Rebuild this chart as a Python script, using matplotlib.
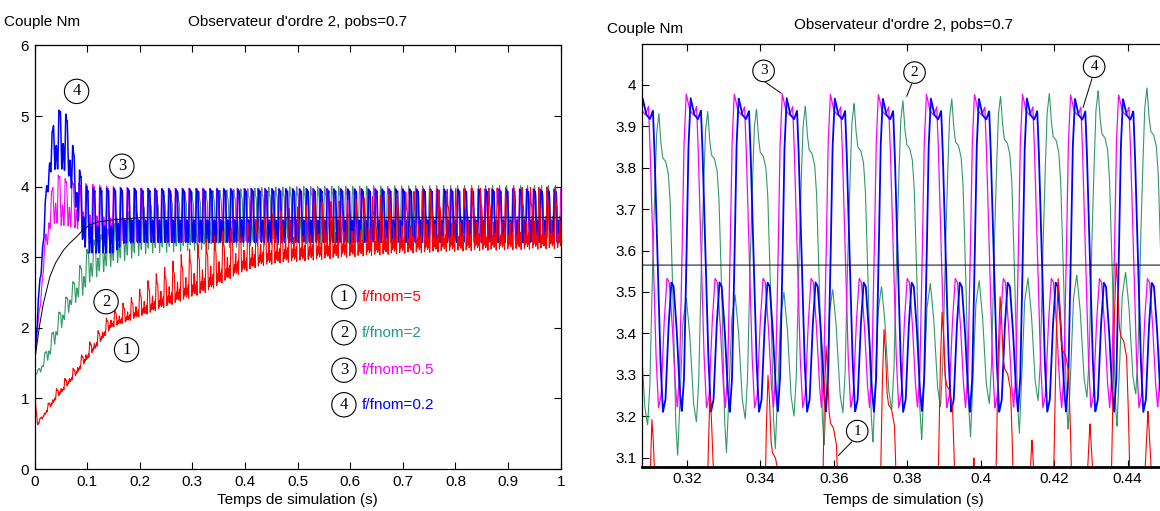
import numpy as np
import matplotlib
matplotlib.use('Agg')
import matplotlib.pyplot as plt
from matplotlib.ticker import FuncFormatter

plt.rcParams['font.family'] = ['Liberation Sans', 'DejaVu Sans']

# ---------------- data ----------------
# one cycle of each steady-state waveform (phase fraction -> normalised level)
cyc_phase = [0, 10/130, 20/130, 28/130, 32/130, 40/130, 48/130, 55/130, 62/130, 70/130,
             78/130, 84/130, 92/130, 100/130, 106/130, 112/130, 118/130, 124/130, 1.0]
mag_cycle = [1.0, 0.947, 0.933, 0.96, 0.84, 0.507, 0.173, 0.0, 0.04, 0.267,
             0.413, 0.40, 0.267, 0.08, 0.0, 0.107, 0.44, 0.84, 1.0]

grn_phase = [0, 5/130, 10/130, 18/130, 25/130, 30/130, 38/130, 45/130, 50/130, 56/130,
             64/130, 73/130, 82/130, 92/130, 100/130, 106/130, 112/130, 118/130, 124/130, 1.0]
grn_cycle = [1.0, 0.918, 0.871, 0.859, 0.824, 0.741, 0.447, 0.094, 0.0, 0.153,
             0.388, 0.459, 0.353, 0.153, 0.094, 0.212, 0.506, 0.741, 0.941, 1.0]

red_phase = [0, 4/155, 8/155, 12/155, 20/155, 28/155, 33/155, 38/155, 42/155, 50/155,
             58/155, 65/155, 70/155, 77/155, 85/155, 92/155, 98/155, 110/155, 120/155,
             130/155, 137/155, 143/155, 150/155, 1.0]
red_cycle = [1.0, 0.92, 0.78, 0.74, 0.72, 0.66, 0.45, 0.15, 0.02, 0.2,
             0.08, 0.25, 0.1, 0.25, 0.46, 0.3, 0.05, 0.22, 0.08,
             0.28, 0.0, 0.3, 0.8, 1.0]

# periods (s) and a time of a cycle start read on the zoomed panel
mag_period, mag_tref = 0.01308, 0.3460
blue_period, blue_tref = 0.01308, 0.3472
grn_period, grn_tref = 0.01329, 0.35227
red_period, red_tref = 0.0158, 0.3737

# envelopes (time, low level, high level)
mag_t = [0, 0.01, 0.017, 0.029, 0.04, 0.05, 0.06, 0.085, 0.105, 0.15, 0.2, 1.0]
mag_lo = [1.55, 2.2, 2.8, 3.4, 3.5, 3.45, 3.45, 3.4, 3.29, 3.24, 3.22, 3.22]
mag_hi = [1.55, 2.35, 3.0, 3.85, 4.15, 4.18, 4.1, 4.05, 4.04, 4.0, 3.98, 3.97]

blue_t = [0, 0.004, 0.017, 0.029, 0.04, 0.055, 0.065, 0.077, 0.089, 0.1, 0.15, 0.17, 0.2, 1.0]
blue_lo = [1.55, 1.9, 3.2, 4.2, 4.25, 4.25, 4.15, 3.75, 3.3, 3.06, 3.06, 3.2, 3.21, 3.21]
blue_hi = [1.55, 2.05, 3.45, 4.6, 5.05, 5.13, 4.9, 4.4, 4.17, 3.98, 3.98, 3.98, 3.97, 3.96]

grn_t = [0, 0.01, 0.03, 0.045, 0.07, 0.093, 0.105, 0.15, 0.21, 0.27, 0.31, 0.45, 0.6, 1.0]
grn_lo = [1.33, 1.35, 1.6, 1.9, 2.3, 2.47, 2.65, 2.9, 3.05, 3.08, 3.1, 3.18, 3.2, 3.2]
grn_hi = [1.33, 1.45, 1.85, 2.2, 2.6, 3.0, 3.2, 3.46, 3.84, 3.92, 3.93, 3.995, 4.01, 4.02]

red_t = [0, 0.0003, 0.002, 0.006, 0.04, 0.076, 0.1, 0.125, 0.146, 0.18, 0.22, 0.283, 0.31,
         0.3256, 0.346, 0.358, 0.374, 0.389, 0.41, 0.42, 0.435, 0.473, 0.537, 0.6, 0.7, 0.8, 1.0]
red_lo = [0, 1.5, 0.9, 0.62, 0.98, 1.3, 1.55, 1.8, 2.0, 2.1, 2.21, 2.39, 2.46,
          2.5, 2.58, 2.64, 2.7, 2.76, 2.82, 2.85, 2.88, 2.92, 2.96, 3.0, 3.05, 3.08, 3.12]
red_hi = [0, 1.5, 0.95, 0.66, 1.12, 1.45, 1.75, 2.0, 2.25, 2.4, 2.7, 3.06, 3.19,
          3.25, 3.31, 3.37, 3.41, 3.45, 3.50, 3.53, 3.565, 3.67, 3.77, 3.81, 3.92, 3.97, 4.0]

# smooth reference torque (black)
blk_t = [0, 0.004, 0.01, 0.017, 0.029, 0.04, 0.055, 0.067, 0.08, 0.09, 0.105, 0.12, 0.149, 0.2, 0.3, 1.0]
blk_v = [1.5, 1.73, 2.05, 2.35, 2.72, 2.92, 3.10, 3.2, 3.29, 3.37, 3.46, 3.5, 3.53, 3.56, 3.565, 3.565]

labels = ['f/fnom=5', 'f/fnom=2', 'f/fnom=0.5', 'f/fnom=0.2']
label_colors = ['#ff0000', '#1f9a8c', '#ff00ff', '#0000ff']

left_xticks = [0, 0.1, 0.2, 0.3, 0.4, 0.5, 0.6, 0.7, 0.8, 0.9, 1.0]
left_yticks = [0, 1, 2, 3, 4, 5, 6]
right_xticks = [0.32, 0.34, 0.36, 0.38, 0.40, 0.42, 0.44]
right_yticks = [3.1, 3.2, 3.3, 3.4, 3.5, 3.6, 3.7, 3.8, 3.9, 4.0]

title = "Observateur d'ordre 2, pobs=0.7"
ylab = "Couple Nm"
xlab = "Temps de simulation (s)"

# ---------------- build signals ----------------
t = np.arange(0, 1.0 + 1e-9, 0.00005)


def signal(tref, period, ph, cyc, et, elo, ehi):
    phase = np.mod((t - tref) / period, 1.0)
    s = np.interp(phase, ph, cyc)
    lo = np.interp(t, et, elo)
    hi = np.interp(t, et, ehi)
    return lo + (hi - lo) * s


y_mag = signal(mag_tref, mag_period, cyc_phase, mag_cycle, mag_t, mag_lo, mag_hi)
y_blue = signal(blue_tref, blue_period, cyc_phase, mag_cycle, blue_t, blue_lo, blue_hi)
y_grn = signal(grn_tref, grn_period, grn_phase, grn_cycle, grn_t, grn_lo, grn_hi)
y_red = signal(red_tref, red_period, red_phase, red_cycle, red_t, red_lo, red_hi)

C_RED, C_GRN, C_MAG, C_BLUE = '#ff0000', '#339966', '#ff00ff', '#0000ff'

W, H = 1160, 511
fig = plt.figure(figsize=(W / 100, H / 100), dpi=100)
fmt = FuncFormatter(lambda v, p: '%g' % round(v, 4))


def style(ax, right=True):
    ax.tick_params(direction='in', length=5, width=0.8, top=True, right=right,
                   labelsize=11, pad=4, colors='black')
    for s in ax.spines.values():
        s.set_linewidth(0.9)
    ax.xaxis.set_major_formatter(fmt)
    ax.yaxis.set_major_formatter(fmt)


def circ(ax, x, y, s, size=12, pad=0.25):
    ax.text(x, y, s, ha='center', va='center', fontsize=size,
            family=['Liberation Serif', 'DejaVu Serif'], zorder=10,
            bbox=dict(boxstyle='circle,pad=%g' % pad, fc='white', ec='black', lw=0.8))


# ---------------- left panel ----------------
axL = fig.add_axes([34.5 / W, (H - 469) / H, 526.2 / W, 423.5 / H])
axL.plot(t, y_grn, color=C_GRN, lw=0.8)
axL.plot(t, y_mag, color=C_MAG, lw=0.8)
axL.plot(t, y_blue, color=C_BLUE, lw=1.1)
axL.plot(t, y_red, color=C_RED, lw=0.8)
axL.plot(blk_t, blk_v, color='black', lw=0.7)
axL.set_xlim(0, 1)
axL.set_ylim(0, 6)
axL.set_xticks(left_xticks)
axL.set_yticks(left_yticks)
style(axL)
circ(axL, 0.080, 5.35, '4')
circ(axL, 0.166, 4.29, '3')
circ(axL, 0.136, 2.37, '2')
circ(axL, 0.175, 1.69, '1')
for i, (lab, col, yy) in enumerate(zip(labels, label_colors, [2.44, 1.93, 1.40, 0.91])):
    circ(axL, 0.588, yy, str(i + 1))
    axL.text(0.621, yy, lab, color=col, fontsize=11, ha='left', va='center')

fig.text(4 / W, 1 - 22 / H, ylab, fontsize=11, ha='left', va='center')
fig.text(297 / W, 1 - 22 / H, title, fontsize=11, ha='center', va='center')
fig.text(297 / W, 1 - 500 / H, xlab, fontsize=11, ha='center', va='center')

# ---------------- right panel ----------------
axR = fig.add_axes([642 / W, (H - 466.7) / H, 523 / W, 422.7 / H])
axR.plot(t, y_grn, color=C_GRN, lw=0.8)
axR.plot(t, y_mag, color=C_MAG, lw=0.9)
axR.plot(t, y_blue, color=C_BLUE, lw=1.3)
axR.plot(t, y_red, color=C_RED, lw=0.8)
axR.plot(blk_t, blk_v, color='black', lw=0.7)
axR.set_xlim(0.3078, 0.4502)
axR.set_ylim(3.078, 4.099)
axR.set_xticks(right_xticks)
axR.set_yticks(right_yticks)
style(axR, right=False)
axR.spines['bottom'].set_linewidth(2.0)
axR.spines['right'].set_visible(False)

circ(axR, 0.3409, 4.034, '3', 11, 0.28)
axR.plot([0.3415, 0.3457], [4.006, 3.980], color='black', lw=0.7)
circ(axR, 0.3820, 4.030, '2', 11, 0.28)
axR.plot([0.3812, 0.3799], [4.002, 3.973], color='black', lw=0.7)
circ(axR, 0.4309, 4.044, '4', 11, 0.28)
axR.plot([0.4303, 0.4279], [4.015, 3.946], color='black', lw=0.7)
circ(axR, 0.3664, 3.164, '1', 11, 0.28)
axR.plot([0.3649, 0.3613], [3.138, 3.105], color='black', lw=0.7)

fig.text(607 / W, 1 - 29 / H, ylab, fontsize=11, ha='left', va='center')
fig.text(903 / W, 1 - 25 / H, title, fontsize=11, ha='center', va='center')
fig.text(903 / W, 1 - 500 / H, xlab, fontsize=11, ha='center', va='center')

fig.savefig('out.png', dpi=100)
